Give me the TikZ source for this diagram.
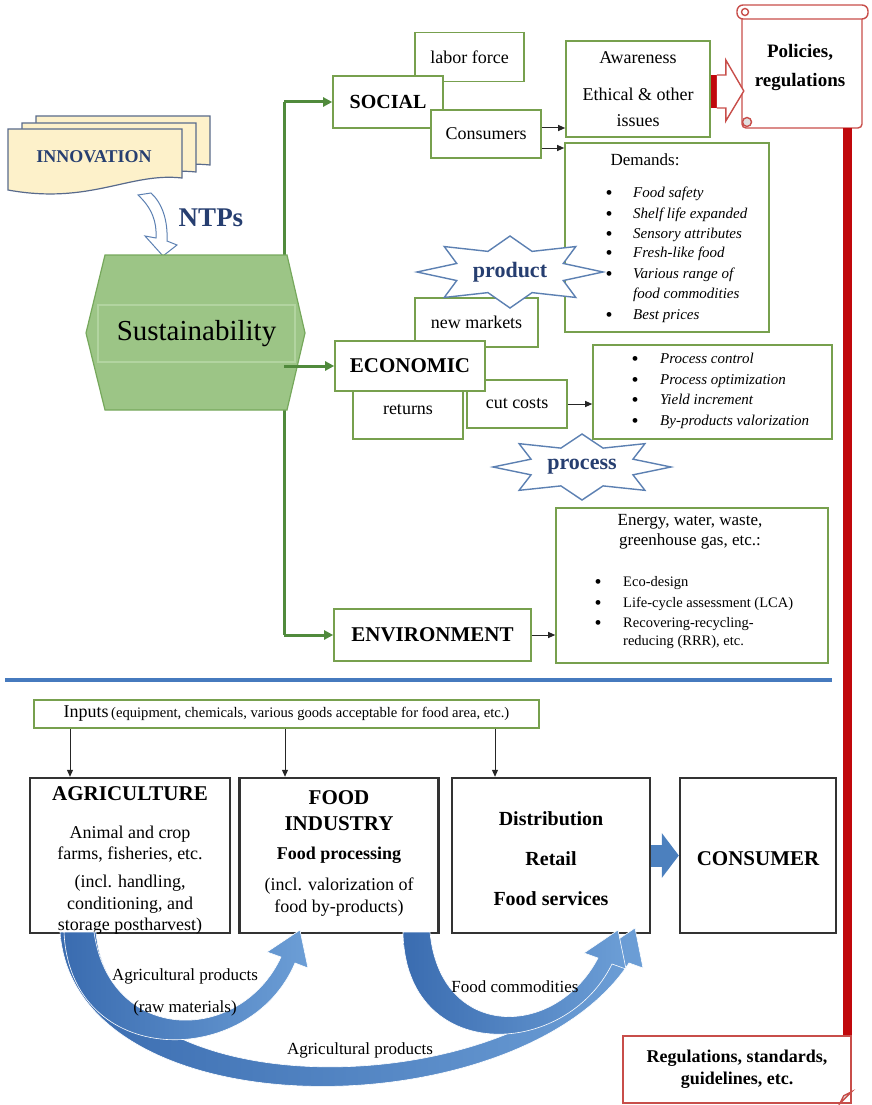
\documentclass[tikz,border=0pt]{standalone}
\usepackage{fontspec}
\setmainfont{Liberation Serif}
\usetikzlibrary{positioning}
\usetikzlibrary{arrows.meta}
\usetikzlibrary{calc}

\definecolor{boxgreen}{RGB}{119,160,78}
\definecolor{trunkgreen}{RGB}{80,138,60}
\definecolor{hexfill}{RGB}{156,197,134}
\definecolor{hexdraw}{RGB}{118,168,92}
\definecolor{hexinner}{RGB}{178,212,160}
\definecolor{sheetfill}{RGB}{253,241,202}
\definecolor{sheetdraw}{RGB}{88,106,140}
\definecolor{navytext}{RGB}{38,62,112}
\definecolor{starblue}{RGB}{92,128,178}
\definecolor{policyred}{RGB}{192,8,12}
\definecolor{scrollred}{RGB}{200,78,74}
\definecolor{flowblue}{RGB}{76,128,190}
\definecolor{flowdark}{RGB}{58,108,176}
\definecolor{flowlight}{RGB}{108,158,214}
\definecolor{sepblue}{RGB}{70,122,190}

\newcommand{\fsz}[2]{\fontsize{#1}{#2}\selectfont}

\tikzstyle{greenbox}=[draw=boxgreen,line width=1.6pt,fill=white,inner sep=0pt,align=center]
\tikzstyle{blackbox}=[draw=black!80,line width=2.4pt,fill=white,inner sep=0pt]
\tikzstyle{trunkline}=[draw=trunkgreen,line width=3pt]
\tikzstyle{trunkarrow}=[draw=trunkgreen,line width=3pt,-{Triangle[length=9pt,width=9pt]}]
\tikzstyle{blackarrow}=[draw=black!85,line width=1pt,-{Triangle[length=7pt,width=6pt]}]
\tikzstyle{ln}=[inner sep=0pt,text height=0.72em,text depth=0.22em]
\tikzstyle{listitem}=[ln,anchor=west,font=\fsz{15}{18}\itshape]
\tikzstyle{plainitem}=[ln,anchor=west,font=\fsz{14.5}{17}]
\tikzstyle{bulletdot}=[inner sep=0pt,font=\fsz{20}{20}]
\tikzstyle{starline}=[draw=starblue,line width=1.4pt,fill=white,line join=miter]
\tikzstyle{startext}=[font=\fsz{22}{26}\bfseries,text=navytext]
\tikzstyle{flow}=[left color=flowdark,right color=flowlight,draw=white,line width=0.6pt]
\tikzstyle{flowtext}=[ln,font=\fsz{17}{20}]
\tikzstyle{scrollline}=[draw=scrollred,line width=1.4pt]

\begin{document}
\begin{tikzpicture}[x=1pt,y=-1pt]
\useasboundingbox (0,0) rectangle (871,1105);

    % innovation sheets, back to front
    \foreach \dx/\dy in {28/13, 14/6, 0/0}
        \draw[fill=sheetfill,draw=sheetdraw,line width=1.2pt] (8+\dx,129-\dy) -- (182+\dx,129-\dy) -- (182+\dx,178-\dy) .. controls (130+\dx,172-\dy) and (90+\dx,205-\dy) .. (8+\dx,190-\dy) -- cycle;
    \node[font=\fsz{18}{21}\bfseries,text=navytext] (innov) at (94,157) {INNOVATION};

    % NTPs hollow arrow
    \draw[fill=white,draw=starblue,line width=1pt] (138,195) .. controls (152,208) and (157,222) .. (156,238) -- (145,236) -- (163,256) -- (177,245) -- (167,241) .. controls (168,220) and (162,203) .. (151,193) -- cycle;
    \node[font=\fsz{27}{30}\bfseries,text=navytext] (ntps) at (211,218) {NTPs};

    % social branch
    \node[greenbox,minimum width=109pt,minimum height=49pt,font=\fsz{18}{21}] (labor) at (469.5,57) {labor force};
    \node[greenbox,minimum width=110pt,minimum height=52pt,font=\fsz{20}{24}\bfseries] (social) at (388,102) {SOCIAL};
    \node[greenbox,minimum width=110pt,minimum height=48pt,font=\fsz{18}{21}] (cons) at (486,134) {Consumers};
    \node[greenbox,minimum width=144pt,minimum height=96pt,font=\fsz{18}{26}] (aware) at (638,89) {Awareness\\[11pt]Ethical \& other\\issues};

    % policies scroll
    \draw[scrollline,fill=white,rounded corners=4pt] (742,14) rectangle (862,128);
    \draw[scrollline,fill=white,rounded corners=6pt] (737,5) rectangle (868,19);
    \draw[scrollline] (745,12) circle (3.5pt);
    \draw[scrollline,fill=black!12] (747,122) circle (4.5pt);
    \node[font=\fsz{19}{29}\bfseries,align=center] (policies) at (800,68) {Policies,\\regulations};
    \coordinate (scrollfoot) at (847,128);

    % red block arrow
    \begin{scope}[shift={(aware.east)}]
        \fill[policyred] (0,-14) rectangle (6,19);
        \draw[scrollline,fill=white,line join=miter] (6,-14) -- (15,-14) -- (15,-29) -- (33,2) -- (15,32) -- (15,19) -- (6,19);
    \end{scope}

    % demands
    \node[greenbox,minimum width=204pt,minimum height=189pt] (demands) at (667,237.5) {};
    \node[ln,font=\fsz{17}{20}] (demhead) at (645,163) {Demands:};
    \foreach \y [count=\i] in {195,216,236,255,276,317}
        \node[bulletdot] (db\i) at (609,\y) {\textbullet};
    \foreach \y/\t [count=\i] in {195/Food safety,216/Shelf life expanded,236/Sensory attributes,255/Fresh-like food,276/Various range of,296/food commodities,317/Best prices}
        \node[listitem] (dt\i) at (633,\y) {\t};

    % economic branch
    \node[greenbox,minimum width=123pt,minimum height=49pt,font=\fsz{18}{21}] (newmk) at (476.5,322.5) {new markets};
    \node[greenbox,minimum width=110pt,minimum height=59pt,font=\fsz{18}{21}] (returns) at (408,409.5) {returns};
    \node[greenbox,minimum width=100pt,minimum height=48pt,font=\fsz{18}{21}] (cut) at (517,404) {cut costs};
    \node[greenbox,minimum width=150pt,minimum height=50pt,font=\fsz{21}{25}\bfseries] (econ) at (410,366) {ECONOMIC};
    \node[greenbox,minimum width=239pt,minimum height=94pt] (proclist) at (712.5,392) {};
    \foreach \y [count=\i] in {361,382,402,423}
        \node[bulletdot] (pb\i) at (635,\y) {\textbullet};
    \foreach \y/\t [count=\i] in {361/Process control,382/Process optimization,402/Yield increment,423/By-products valorization}
        \node[listitem] (pt\i) at (660,\y) {\t};

    % environment branch
    \node[greenbox,minimum width=197pt,minimum height=52pt,font=\fsz{21}{25}\bfseries] (env) at (432.5,635) {ENVIRONMENT};
    \node[greenbox,minimum width=272pt,minimum height=155pt] (envlist) at (692,585.5) {};
    \node[ln,font=\fsz{17}{20}] (envhead1) at (690,523) {Energy, water, waste,};
    \node[ln,font=\fsz{17}{20}] (envhead2) at (690,543) {greenhouse gas, etc.:};
    \foreach \y [count=\i] in {584,605,625}
        \node[bulletdot] (eb\i) at (598,\y) {\textbullet};
    \foreach \y/\t [count=\i] in {584/Eco-design,605/Life-cycle assessment (LCA),625/Recovering-recycling-,643/{reducing (RRR), etc.}}
        \node[plainitem] (et\i) at (623,\y) {\t};

    % stars
    \foreach \cx/\cy/\rx/\ry in {510/272/93/36, 582/467/89/33}
        \draw[starline,shift={(\cx,\cy)},xscale=\rx,yscale=\ry] (0:1) -- (22.5:0.62) -- (45:1) -- (67.5:0.62) -- (90:1) -- (112.5:0.62) -- (135:1) -- (157.5:0.62) -- (180:1) -- (202.5:0.62) -- (225:1) -- (247.5:0.62) -- (270:1) -- (292.5:0.62) -- (315:1) -- (337.5:0.62) -- cycle;
    \node[startext] (prod) at (510,272) {product};
    \node[startext] (proc) at (582,467) {process};

    % trunk and sustainability
    \coordinate (trunk) at (284,0);
    \draw[trunkline] (trunk |- social.west) -- (trunk |- env.west);
    \draw[fill=hexfill,draw=hexdraw,line width=1.2pt] (105,255) -- (287,255) -- (305,333) -- (287,410) -- (105,410) -- (86,333) -- cycle;
    \node[draw=hexinner,line width=1.4pt,minimum width=197pt,minimum height=57pt,inner sep=0pt,font=\fsz{29}{32}] (sust) at (196.5,333.5) {Sustainability};
    \foreach \tgt in {social,econ,env}
        \draw[trunkarrow] (trunk |- \tgt.west) -- (\tgt.west);

    % black connectors
    \draw[blackarrow] ([yshift=6pt]cons.east) -- ([yshift=6pt]cons.east -| aware.west);
    \draw[blackarrow] ([yshift=-14pt]cons.east) -- ([yshift=-14pt]cons.east -| demands.west);
    \draw[blackarrow] (cut.east) -- (cut.east -| proclist.west);
    \draw[blackarrow] (env.east) -- (env.east -| envlist.west);

    % separator
    \draw[sepblue,line width=4pt] (5,680) -- (832,680);

    % food chain
    \node[greenbox,line width=1.2pt,minimum width=505pt,minimum height=28pt] (inputs) at (286.5,714) {{\fsz{18}{20}Inputs} {\fsz{14.6}{16}(equipment, chemicals, various goods acceptable for food area, etc.)}};
    \foreach \pos/\name/\w in {{(130,855.5)/agri/200},{(339,855.5)/food/199},{(551,855.5)/dist/198},{(758,855.5)/consumer/156}}
        \node[blackbox,minimum width=\w pt,minimum height=155pt] (\name) at \pos {};
    \foreach \tgt/\dx in {agri/-60,food/-54,dist/-56}
        \draw[blackarrow] ([xshift=\dx pt]\tgt.north |- inputs.south) -- ([xshift=\dx pt]\tgt.north);
    \draw[flowblue,line width=22pt,-{Triangle[length=17pt,width=44pt]}] (dist.east) -- (consumer.west);

    \foreach \y/\t in {798/{\fsz{21}{24}\bfseries AGRICULTURE},836/Animal and crop,857/{farms, fisheries, etc.},885/{(incl. handling,},907/{conditioning, and},928/{storage postharvest)}}
        \node[ln,font=\fsz{18}{21}] (agri\y) at (130,\y) {\t};
    \foreach \y/\t in {802/{\fsz{21}{24}\bfseries FOOD},828/{\fsz{21}{24}\bfseries INDUSTRY},857/{\bfseries Food processing},888/{(incl. valorization of},910/{food by-products)}}
        \node[ln,font=\fsz{18}{21}] (food\y) at (339,\y) {\t};
    \foreach \y/\t in {823/Distribution,863/Retail,903/Food services}
        \node[ln,font=\fsz{20}{24}\bfseries] (dist\y) at (551,\y) {\t};
    \node[ln,font=\fsz{21}{24}\bfseries] (constext) at (758,863) {CONSUMER};

    % flows under the chain
    \draw[flow] (60,932) .. controls (75,1135) and (520,1130) .. (629,963) -- (643,968) -- (635,928) -- (601,951) -- (615,957) .. controls (505,1105) and (110,1110) .. (96,932) -- cycle;
    \draw[flow] (64,932) .. controls (70,1070) and (250,1070) .. (295,963) -- (308,968) -- (300,930) -- (267,952) -- (281,957) .. controls (240,1045) and (110,1045) .. (94,932) -- cycle;
    \draw[flow] (403,932) .. controls (405,1065) and (565,1060) .. (612,964) -- (626,969) -- (618,930) -- (584,953) -- (598,958) .. controls (555,1040) and (440,1040) .. (430,932) -- cycle;
    \node[flowtext] (flowa) at (185,978) {Agricultural products};
    \node[flowtext] (flowb) at (185,1010) {(raw materials)};
    \node[flowtext] (flowc) at (515,990) {Food commodities};
    \node[flowtext] (flowd) at (360,1052) {Agricultural products};

    % regulations
    \node[draw=scrollred,line width=1.4pt,fill=white,minimum width=228pt,minimum height=67pt,align=center,font=\fsz{18}{22}\bfseries] (regs) at (737,1069.5) {Regulations, standards,\\guidelines, etc.};
    \draw[scrollline,fill=black!10] ([xshift=-12pt]regs.south east) -- ([yshift=12pt]regs.south east) -- ([xshift=-8pt,yshift=8pt]regs.south east) -- cycle;
    \draw[policyred,line width=9pt] (scrollfoot) -- (scrollfoot |- regs.north);

\end{tikzpicture}
\end{document}
